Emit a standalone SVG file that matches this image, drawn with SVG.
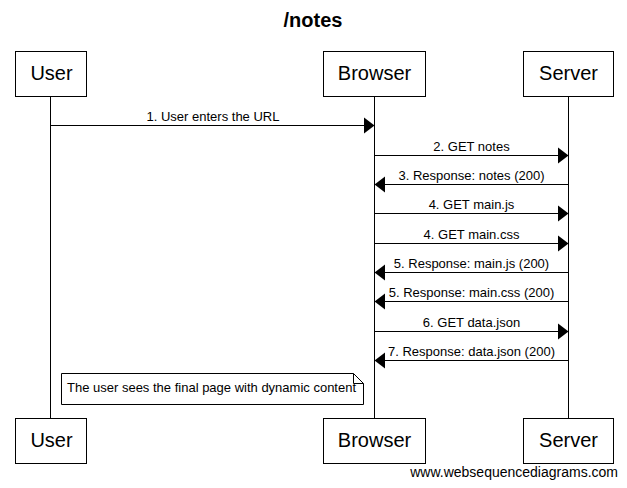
<svg xmlns="http://www.w3.org/2000/svg" width="627" height="488" viewBox="0 0 627 488">
<defs>
<style>
.box{fill:#fff;stroke:#000;stroke-width:1}
.life{stroke:#000;stroke-width:1}
.msg{stroke:#000;stroke-width:1;fill:none}
.head{fill:#000}
.actor{font-family:"Liberation Sans",Arial,sans-serif;font-size:20px;text-anchor:middle;fill:#000}
.lbl{font-family:"Liberation Sans",Arial,sans-serif;font-size:13px;text-anchor:middle;fill:#000}
.note{font-family:"Liberation Sans",Arial,sans-serif;font-size:13px;fill:#000}
.title{font-family:"Liberation Sans",Arial,sans-serif;font-size:20px;font-weight:bold;text-anchor:middle;fill:#000}
.wm{font-family:"Liberation Sans",Arial,sans-serif;font-size:14px;text-anchor:end;fill:#000}
</style>
</defs>
<rect width="627" height="488" fill="#fff"/>
<text class="title" x="313" y="27">/notes</text>
<g id="lifelines">
<line class="life" x1="50.5" y1="96" x2="50.5" y2="418"/>
<line class="life" x1="374.5" y1="96" x2="374.5" y2="418"/>
<line class="life" x1="568.5" y1="96" x2="568.5" y2="418"/>
</g>
<g id="user">
<rect class="box" x="15.5" y="51.5" width="71" height="45"/>
<text class="actor" x="51.5" y="80">User</text>
<rect class="box" x="15.5" y="418.5" width="71" height="45"/>
<text class="actor" x="51.5" y="447">User</text>
</g>
<g id="browser">
<rect class="box" x="323.5" y="51.5" width="102" height="45"/>
<text class="actor" x="374.5" y="80">Browser</text>
<rect class="box" x="323.5" y="418.5" width="102" height="45"/>
<text class="actor" x="374.5" y="447">Browser</text>
</g>
<g id="server">
<rect class="box" x="523.5" y="51.5" width="90" height="45"/>
<text class="actor" x="568.5" y="80">Server</text>
<rect class="box" x="523.5" y="418.5" width="90" height="45"/>
<text class="actor" x="568.5" y="447">Server</text>
</g>
<g id="connectors">
<line class="msg" x1="50.5" y1="125.5" x2="366" y2="125.5"/>
<polygon class="head" points="364,117.5 374.5,125.5 364,133.5"/>
<text class="lbl" x="213" y="121">1. User enters the URL</text>

<line class="msg" x1="374.5" y1="155.5" x2="560" y2="155.5"/>
<polygon class="head" points="558,147.5 568.5,155.5 558,163.5"/>
<text class="lbl" x="471.5" y="151">2. GET notes</text>

<line class="msg" x1="568.5" y1="184.5" x2="383" y2="184.5"/>
<polygon class="head" points="385,176.5 374.5,184.5 385,192.5"/>
<text class="lbl" x="471.5" y="180">3. Response: notes (200)</text>

<line class="msg" x1="374.5" y1="213.5" x2="560" y2="213.5"/>
<polygon class="head" points="558,205.5 568.5,213.5 558,221.5"/>
<text class="lbl" x="471.5" y="209">4. GET main.js</text>

<line class="msg" x1="374.5" y1="243.5" x2="560" y2="243.5"/>
<polygon class="head" points="558,235.5 568.5,243.5 558,251.5"/>
<text class="lbl" x="471.5" y="239">4. GET main.css</text>

<line class="msg" x1="568.5" y1="272.5" x2="383" y2="272.5"/>
<polygon class="head" points="385,264.5 374.5,272.5 385,280.5"/>
<text class="lbl" x="471.5" y="268">5. Response: main.js (200)</text>

<line class="msg" x1="568.5" y1="301.5" x2="383" y2="301.5"/>
<polygon class="head" points="385,293.5 374.5,301.5 385,309.5"/>
<text class="lbl" x="471.5" y="297">5. Response: main.css (200)</text>

<line class="msg" x1="374.5" y1="331.5" x2="560" y2="331.5"/>
<polygon class="head" points="558,323.5 568.5,331.5 558,339.5"/>
<text class="lbl" x="471.5" y="327">6. GET data.json</text>

<line class="msg" x1="568.5" y1="360.5" x2="383" y2="360.5"/>
<polygon class="head" points="385,352.5 374.5,360.5 385,368.5"/>
<text class="lbl" x="471.5" y="356">7. Response: data.json (200)</text>
</g>
<g id="note">
<path class="box" d="M61.5,373.5 H353.5 L363.5,383.5 V404.5 H61.5 Z"/>
<path class="msg" d="M353.5,373.5 V383.5 H363.5"/>
<text class="note" x="67" y="392">The user sees the final page with dynamic content</text>
</g>
<text class="wm" x="618" y="477">www.websequencediagrams.com</text>
</svg>
